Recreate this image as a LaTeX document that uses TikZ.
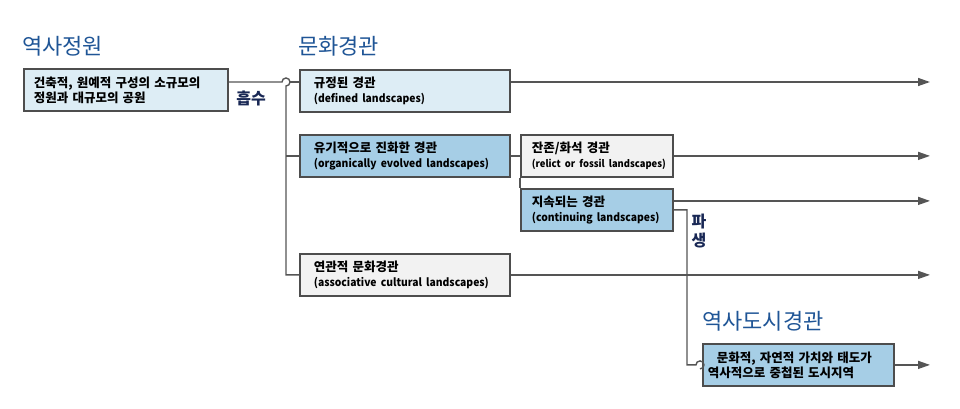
\documentclass[tikz,border=0pt]{standalone}
\usepackage{fontspec}
\setmainfont{Noto Sans CJK KR}
\newfontfamily\engfont{Noto Sans CJK KR}[FakeStretch=0.94]
\usepackage{xcolor}
\usetikzlibrary{positioning, arrows.meta}
\definecolor{titleblue}{RGB}{31,85,150}
\definecolor{navy}{RGB}{25,40,85}
\definecolor{paleblue}{RGB}{221,237,245}
\definecolor{midblue}{RGB}{166,206,230}
\definecolor{palegray}{RGB}{242,242,242}
\definecolor{boxline}{RGB}{77,77,77}
\definecolor{linegray}{RGB}{85,85,85}

\begin{document}
\begin{tikzpicture}[x=1pt,y=1pt]
  % 스타일 정의
  \tikzset{box/.style = {draw=boxline, line width=1.8pt, rectangle, anchor=north west, inner sep=0pt, minimum height=42pt, align=left, font=\fontsize{12.5}{15}\selectfont\bfseries}}
  \tikzset{conn/.style = {draw=linegray, line width=1.4pt}}
  \tikzset{arrow/.style = {conn, -{Triangle[length=12pt, width=8pt]}}}
  \tikzset{title/.style = {anchor=west, inner sep=0pt, text=titleblue, font=\fontsize{22}{22}\selectfont}}
  \tikzset{tag/.style = {inner sep=0pt, text=navy, align=center, font=\fontsize{16}{19}\selectfont\bfseries}}
  \newcommand{\eng}{\engfont\bfseries\fontsize{11}{15}\selectfont}

  \useasboundingbox (0,0) rectangle (960,-409);

  % 제목
  \node[title] (tgarden) at (22,-46) {역사정원};
  \node[title] (tculture) at (298,-46) {문화경관};
  \node[title] (turban) at (702,-321) {역사도시경관};

  % 상자
  \node[box, fill=paleblue, minimum width=204pt, text width=184pt] (garden) at (23,-68)
    {건축적, 원예적 구성의 소규모의\\정원과 대규모의 공원};
  \node[box, fill=paleblue, minimum width=210pt, text width=182pt] (defined) at (299,-69)
    {규정된 경관\\\eng (defined landscapes)};
  \node[box, fill=midblue, minimum width=210pt, text width=182pt] (organic) at (299,-134)
    {유기적으로 진화한 경관\\\eng (organically evolved landscapes)};
  \node[box, fill=palegray, minimum width=152pt, text width=130pt] (relict) at (520,-134)
    {잔존/화석 경관\\\mbox{\eng\fontsize{10}{12}\selectfont (relict or fossil landscapes)}};
  \node[box, fill=midblue, minimum width=152pt, text width=130pt] (continuing) at (520,-188)
    {지속되는 경관\\\mbox{\eng (continuing landscapes)}};
  \node[box, fill=palegray, minimum width=210pt, text width=182pt] (assoc) at (299,-253)
    {연관적 문화경관\\\eng (associative cultural landscapes)};
  \node[box, fill=midblue, minimum width=191pt, text width=181pt] (urban) at (702,-343)
    {\hspace*{9pt}문화적, 자연적 가치와 태도가\\역사적으로 중첩된 도시지역};

  % 표시
  \node[tag] (absorb) at (251,-98) {흡수};
  \node[tag] (derive) at (699,-231) {파\\생};

  % 연결점
  \coordinate (jA) at (286,-82);
  \coordinate (jB) at (687,0);
  \coordinate (rim) at (930,0);

  % 연결선
  \draw[conn] (garden.east |- jA) -- ([xshift=-4pt]jA) arc[start angle=180, end angle=-90, radius=4pt] -- (jA |- assoc.west) -- (assoc.west);
  \draw[conn] ([xshift=4pt]jA) -- (defined.west |- jA);
  \draw[conn] (jA |- organic.west) -- (organic.west);
  \draw[conn] (organic.east) -- (organic.east -| relict.west);
  \draw[conn] (relict.south west) -- (continuing.north west);
  \draw[conn] (continuing.east) -- (continuing.east -| jB) -- (jB |- urban.west) -- ([xshift=-6pt]urban.west) arc[start angle=180, end angle=-90, radius=4pt];

  % 화살표
  \draw[arrow] (defined.east |- jA) -- (rim |- jA);
  \draw[arrow] (relict.east) -- (relict.east -| rim);
  \draw[arrow] ([yshift=9pt]continuing.east) -- ([yshift=9pt]continuing.east -| rim);
  \draw[arrow] (assoc.east) -- (assoc.east -| rim);
  \draw[arrow] (urban.east) -- (urban.east -| rim);
\end{tikzpicture}
\end{document}
